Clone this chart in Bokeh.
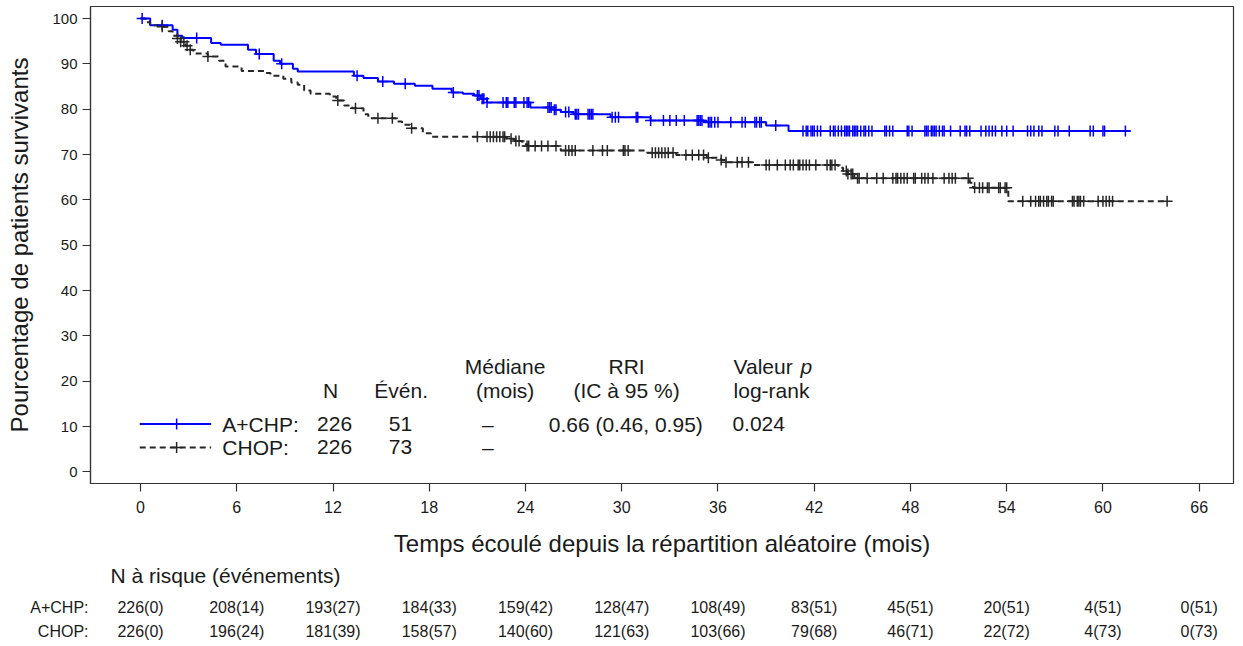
import numpy as np
from bokeh.plotting import figure
from bokeh.models import Range1d, FixedTicker
from bokeh.layouts import column
from bokeh.embed import file_html
from bokeh.resources import INLINE
from bokeh.core.properties import value

# ---------------- data ----------------
achp_event_t = [0, 0.6, 2.0, 2.3, 2.6, 4.4, 5.0, 6.7, 7.2, 8.3, 8.7, 9.5, 9.8, 13.3, 13.9, 14.8,
                15.8, 17.1, 18.2, 19.4, 20.1, 20.8, 21.2, 21.6, 24.3, 25.8, 26.2, 27.0, 29.3,
                31.8, 35.1, 39.0, 40.4, 61.7]
achp_event_s = [100, 98.5, 97.5, 96.2, 95.7, 94.6, 94.2, 93.1, 92.2, 90.7, 90.0, 88.9, 88.3, 87.4,
                86.9, 86.1, 85.6, 85.2, 84.5, 83.7, 83.4, 83.0, 82.3, 81.5, 80.4, 79.9, 79.4, 78.9,
                78.2, 77.5, 77.1, 76.4, 75.2, 75.2]
achp_censor_t = [0.1, 1.35, 3.5, 7.4, 8.8, 13.5, 15.1, 16.5, 19.5, 21.0, 21.1, 21.3, 21.4, 21.6,
                 22.6, 22.8, 22.9, 23.3, 23.4, 23.9, 24.1, 24.2, 25.4, 25.5, 25.6, 25.8, 25.9, 26.5,
                 26.7, 27.1, 27.2, 27.3, 27.9, 28.0, 28.1, 28.2, 29.4, 29.6, 29.8, 30.9, 31.0, 31.8,
                 32.6, 33.0, 33.4, 33.9, 34.7, 34.8, 34.9, 35.0, 35.4, 35.5, 35.6, 35.8, 36.0, 36.8,
                 37.5, 37.7, 38.3, 38.4, 38.6, 38.7, 39.6, 41.3, 41.5, 41.6, 41.8, 41.9, 42.0, 42.2,
                 42.4, 43.0, 43.2, 43.3, 43.5, 43.7, 43.9, 44.0, 44.1, 44.2, 44.4, 44.5, 44.6, 44.7,
                 44.9, 45.1, 45.2, 45.4, 45.6, 46.4, 46.5, 46.7, 46.9, 47.8, 47.9, 48.1, 48.9, 49.0,
                 49.1, 49.3, 49.4, 49.5, 49.6, 49.8, 50.0, 50.1, 50.5, 51.1, 51.4, 51.5, 51.7, 52.4,
                 52.7, 52.9, 53.1, 53.3, 53.7, 54.0, 54.4, 55.3, 55.5, 55.7, 56.0, 56.2, 57.0, 57.2,
                 57.9, 59.2, 59.4, 60.0, 60.1, 61.4]

chop_event_t = [0, 0.3, 0.6, 1.25, 1.75, 2.0, 2.3, 2.5, 2.8, 3.0, 3.3, 4.2, 4.9, 5.3, 6.3, 7.7, 8.1,
                8.9, 9.4, 9.8, 10.2, 10.6, 11.8, 12.2, 12.7, 13.2, 13.9, 14.2, 15.9, 16.3, 16.8,
                17.6, 18.1, 22.8, 23.3, 23.8, 24.1, 26.2, 31.6, 33.4, 35.3, 36.2, 36.5, 38.2, 43.5,
                43.8, 44.1, 44.5, 51.7, 51.9, 54.1, 64.0]
chop_event_s = [100, 99.2, 98.5, 98.2, 97.2, 96.2, 95.6, 94.9, 94.0, 93.1, 92.3, 91.6, 90.7, 89.4,
                88.4, 88.0, 87.4, 86.7, 85.9, 85.4, 84.1, 83.4, 82.8, 81.9, 80.8, 80.2, 78.9, 78.0,
                77.3, 76.6, 75.8, 74.7, 73.9, 73.5, 73.0, 72.3, 71.9, 70.9, 70.4, 69.9, 69.3, 68.8,
                68.3, 67.7, 67.1, 66.4, 65.7, 64.8, 63.8, 62.7, 59.7, 59.7]
chop_censor_t = [1.35, 2.3, 2.5, 2.7, 2.9, 3.1, 4.2, 12.3, 13.4, 14.8, 15.7, 16.9, 21.0, 21.6, 21.8,
                 22.0, 22.2, 22.4, 22.6, 22.7, 23.1, 23.4, 23.6, 24.1, 24.2, 24.6, 25.0, 25.4, 25.9,
                 26.5, 26.7, 26.9, 27.1, 28.2, 28.8, 29.1, 30.1, 30.2, 30.4, 31.9, 32.1, 32.3, 32.5,
                 32.7, 32.9, 33.2, 34.0, 34.4, 34.8, 35.1, 35.4, 36.2, 36.5, 37.2, 37.5, 37.9, 39.0,
                 39.2, 39.7, 40.2, 40.5, 40.7, 41.0, 41.1, 41.3, 41.5, 41.7, 42.1, 42.8, 43.0, 43.1,
                 43.3, 44.0, 44.1, 44.3, 44.4, 44.7, 44.8, 45.3, 45.9, 46.3, 46.9, 47.1, 47.2, 47.4,
                 47.6, 47.8, 48.2, 48.3, 48.7, 48.9, 49.1, 49.4, 50.1, 50.4, 50.6, 50.8, 51.6, 52.0,
                 52.3, 52.5, 52.8, 52.9, 53.5, 53.6, 53.9, 54.0, 55.0, 55.5, 55.8, 56.0, 56.1, 56.3,
                 56.5, 56.6, 56.8, 56.9, 58.1, 58.2, 58.4, 58.5, 58.6, 58.8, 59.7, 60.0, 60.2, 60.4,
                 60.6, 64.0]

x_ticks = [0, 6, 12, 18, 24, 30, 36, 42, 48, 54, 60, 66]
y_ticks = [0, 10, 20, 30, 40, 50, 60, 70, 80, 90, 100]

groups = ["A+CHP:", "CHOP:"]
group_n = ["226", "226"]
group_events = ["51", "73"]
group_median = ["\u2013", "\u2013"]
hr_text = "0.66 (0.46, 0.95)"
p_text = "0.024"

risk_achp = ["226(0)", "208(14)", "193(27)", "184(33)", "159(42)", "128(47)", "108(49)",
             "83(51)", "45(51)", "20(51)", "4(51)", "0(51)"]
risk_chop = ["226(0)", "196(24)", "181(39)", "158(57)", "140(60)", "121(63)", "103(66)",
             "79(68)", "46(71)", "22(72)", "4(73)", "0(73)"]

# ---------------- style ----------------
FONT = "Liberation Sans"
BLUE = "#0000FF"
DARK = "#262626"
TXT = "#1a1a1a"
AX = "#333333"
X_RANGE = (-3.12, 68.14)


def step_value(event_t, event_s, times):
    idx = np.searchsorted(np.asarray(event_t), np.asarray(times), side="right") - 1
    return list(np.asarray(event_s)[idx])


p = figure(width=1235, height=560, x_range=Range1d(*X_RANGE), y_range=Range1d(-2.54, 102.65),
           output_backend="svg", toolbar_location=None,
           min_border_left=90, min_border_right=2, min_border_top=6, min_border_bottom=77)
p.xgrid.visible = False
p.ygrid.visible = False
p.outline_line_color = AX
p.outline_line_width = 1.2

p.xaxis.ticker = FixedTicker(ticks=x_ticks)
p.yaxis.ticker = FixedTicker(ticks=y_ticks)
for ax in (p.xaxis[0], p.yaxis[0]):
    ax.axis_line_color = AX
    ax.axis_line_width = 1.2
    ax.major_tick_line_color = AX
    ax.major_tick_line_width = 1.2
    ax.minor_tick_line_color = None
    ax.major_tick_in = 0
    ax.major_tick_out = 8
    ax.major_label_text_font = FONT
    ax.major_label_text_color = TXT
    ax.axis_label_text_font = FONT
    ax.axis_label_text_font_style = "normal"
    ax.axis_label_text_color = TXT
    ax.axis_label_text_font_size = "24px"
p.xaxis.major_label_standoff = 9
p.xaxis.major_label_text_font_size = "16px"
p.xaxis.axis_label = "Temps écoulé depuis la répartition aléatoire (mois)"
p.xaxis.axis_label_standoff = 14
p.yaxis.major_label_standoff = 5
p.yaxis.major_label_text_font_size = "15px"
p.yaxis.axis_label = "Pourcentage de patients survivants"
p.yaxis.axis_label_standoff = 16

# curves
p.step(achp_event_t, achp_event_s, mode="after", line_color=BLUE, line_width=2)
p.step(chop_event_t, chop_event_s, mode="after", line_color=DARK, line_width=2, line_dash="6 4")
p.scatter(achp_censor_t, step_value(achp_event_t, achp_event_s, achp_censor_t), marker="cross",
          size=11, line_color=BLUE, line_width=1.5)
p.scatter(chop_censor_t, step_value(chop_event_t, chop_event_s, chop_censor_t), marker="cross",
          size=11, line_color=DARK, line_width=1.5)

# legend / summary table (positions in data units)
LEG_X0, LEG_X1, LEG_XM = -0.05, 4.4, 2.25
ROW_Y = [10.58, 5.4]
HEAD_Y1, HEAD_Y2 = 23.3, 18.0
p.line([LEG_X0, LEG_X1], [ROW_Y[0], ROW_Y[0]], line_color=BLUE, line_width=2)
p.line([LEG_X0, LEG_X1], [ROW_Y[1], ROW_Y[1]], line_color=DARK, line_width=2, line_dash="6 4")
p.scatter([LEG_XM], [ROW_Y[0]], marker="cross", size=11, line_color=BLUE, line_width=1.5)
p.scatter([LEG_XM], [ROW_Y[1]], marker="cross", size=11, line_color=DARK, line_width=1.5)

tkw = dict(text_font=value(FONT), text_font_size="21px", text_color=TXT, text_baseline="middle")
p.text([5.1, 5.1], ROW_Y, text=groups, text_align="left", **tkw)
p.text([12.1, 12.1], ROW_Y, text=group_n, text_align="center", **tkw)
p.text([16.2, 16.2], ROW_Y, text=group_events, text_align="center", **tkw)
p.text([21.65, 21.65], ROW_Y, text=group_median, text_align="center", **tkw)
p.text([30.25], [ROW_Y[0]], text=[hr_text], text_align="center", **tkw)
p.text([36.9], [ROW_Y[0]], text=[p_text], text_align="left", **tkw)

p.text([11.85], [HEAD_Y2], text=["N"], text_align="center", **tkw)
p.text([16.25], [HEAD_Y2], text=["Évén."], text_align="center", **tkw)
p.text([22.73, 22.73], [HEAD_Y1, HEAD_Y2], text=["Médiane", "(mois)"], text_align="center", **tkw)
p.text([30.3, 30.3], [HEAD_Y1, HEAD_Y2], text=["RRI", "(IC à 95 %)"], text_align="center", **tkw)
p.text([36.97], [HEAD_Y1], text=["Valeur"], text_align="left", **tkw)
p.text([36.97], [HEAD_Y1], text=["p"], text_align="left", x_offset=67, text_font_style="italic", **tkw)
p.text([36.97], [HEAD_Y2], text=["log-rank"], text_align="left", **tkw)

# ---------------- risk table ----------------
ROW_RISK_Y = [47, 71]
r = figure(width=1235, height=84, x_range=Range1d(*X_RANGE), y_range=Range1d(84, 0),
           output_backend="svg", toolbar_location=None, x_axis_location=None,
           min_border_left=90, min_border_right=2, min_border_top=0, min_border_bottom=0)
r.xgrid.visible = False
r.ygrid.visible = False
r.outline_line_color = None
r.yaxis.ticker = FixedTicker(ticks=ROW_RISK_Y)
r.yaxis.major_label_overrides = {ROW_RISK_Y[0]: groups[0], ROW_RISK_Y[1]: groups[1]}
r.yaxis.axis_line_color = None
r.yaxis.major_tick_line_color = None
r.yaxis.minor_tick_line_color = None
r.yaxis.major_tick_in = 0
r.yaxis.major_tick_out = 0
r.yaxis.major_label_standoff = 2
r.yaxis.major_label_text_font = FONT
r.yaxis.major_label_text_font_size = "16px"
r.yaxis.major_label_text_color = TXT

r.text([-1.87], [15], text=["N à risque (événements)"], text_align="left",
       text_font=value(FONT), text_font_size="21px", text_color=TXT, text_baseline="middle")
rkw = dict(text_font=value(FONT), text_font_size="16px", text_color=TXT, text_baseline="middle")
r.text(x_ticks, [ROW_RISK_Y[0]] * len(x_ticks), text=risk_achp, text_align="center", **rkw)
r.text(x_ticks, [ROW_RISK_Y[1]] * len(x_ticks), text=risk_chop, text_align="center", **rkw)

layout = column(p, r, spacing=0)
open("out.html", "w").write(file_html(layout, INLINE))
